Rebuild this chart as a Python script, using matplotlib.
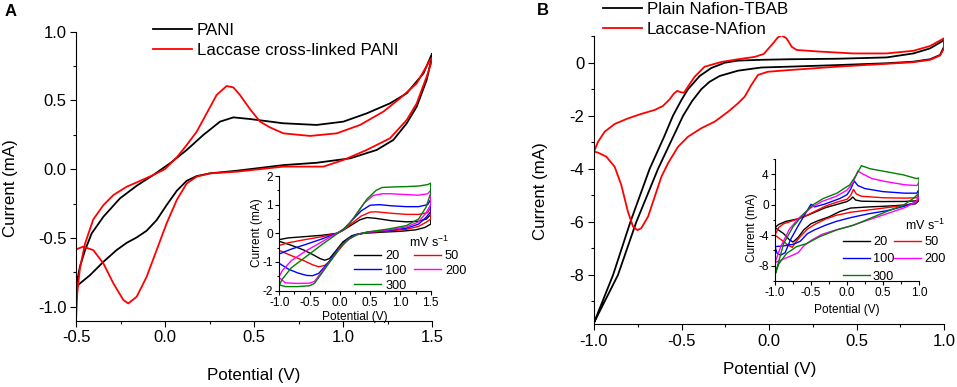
import matplotlib
matplotlib.use('Agg')
import matplotlib.pyplot as plt
from matplotlib.ticker import MultipleLocator, FormatStrFormatter

plt.rcParams['font.family'] = ['Liberation Sans', 'DejaVu Sans']
plt.rcParams['mathtext.fontset'] = 'custom'
plt.rcParams['mathtext.rm'] = 'Liberation Sans'
plt.rcParams['mathtext.it'] = 'Liberation Sans:italic'
plt.rcParams['axes.unicode_minus'] = False

# ---------------- Panel A main: PANI vs laccase cross-linked PANI ----------------
pani_up_x = [-0.5, -0.478, -0.449, -0.412, -0.346, -0.253, -0.159, -0.066, 0.028, 0.122, 0.215, 0.309,
             0.384, 0.478, 0.665, 0.852, 1.002, 1.133, 1.264, 1.358, 1.452, 1.5]
pani_up_y = [-0.854, -0.709, -0.588, -0.467, -0.345, -0.212, -0.120, -0.042, 0.043, 0.140, 0.249, 0.346,
             0.377, 0.365, 0.334, 0.322, 0.346, 0.406, 0.479, 0.552, 0.697, 0.84]
pani_dn_x = [1.5, 1.47, 1.414, 1.358, 1.283, 1.189, 1.04, 0.852, 0.665, 0.403, 0.253, 0.178, 0.122, 0.066,
             0.009, -0.047, -0.103, -0.159, -0.215, -0.272, -0.346, -0.421, -0.5]
pani_dn_y = [0.82, 0.649, 0.455, 0.334, 0.213, 0.14, 0.079, 0.047, 0.030, -0.011, -0.030, -0.050, -0.084,
             -0.157, -0.261, -0.370, -0.447, -0.496, -0.535, -0.588, -0.673, -0.770, -0.854]

lac_up_x = [-0.5, -0.493, -0.478, -0.449, -0.403, -0.346, -0.290, -0.215, -0.159, -0.066, 0.0, 0.066, 0.122,
            0.178, 0.234, 0.290, 0.346, 0.384, 0.421, 0.478, 0.534, 0.590, 0.665, 0.815, 0.965, 1.096, 1.227,
            1.32, 1.414, 1.489, 1.5]
lac_up_y = [-1.1, -0.903, -0.721, -0.540, -0.365, -0.261, -0.188, -0.127, -0.096, -0.042, 0.001, 0.086, 0.176,
            0.273, 0.406, 0.540, 0.605, 0.595, 0.540, 0.436, 0.346, 0.304, 0.261, 0.242, 0.261, 0.322, 0.419,
            0.515, 0.624, 0.794, 0.81]
lac_dn_x = [1.5, 1.47, 1.414, 1.358, 1.264, 1.133, 1.002, 0.89, 0.665, 0.403, 0.253, 0.178, 0.122, 0.066,
            0.009, -0.047, -0.103, -0.159, -0.206, -0.234, -0.290, -0.346, -0.403, -0.459, -0.5]
lac_dn_y = [0.79, 0.673, 0.479, 0.358, 0.225, 0.14, 0.067, 0.019, 0.019, -0.018, -0.030, -0.054, -0.103,
            -0.224, -0.394, -0.588, -0.782, -0.927, -0.976, -0.951, -0.830, -0.685, -0.588, -0.563, -0.583]

# ---------------- Panel A inset: scan rates (mV s-1) ----------------
rate_labels = ['20', '50', '100', '200', '300']
rate_colors = ['#000000', '#ff0000', '#0000ff', '#ff00ff', '#008000']
insA_20_x = [-1, -0.8, -0.6, -0.45, -0.33, -0.25, -0.17, -0.08, 0.05, 0.2, 0.4, 0.7, 1.0, 1.25, 1.4, 1.5,
             1.5, 1.43, 1.3, 1.1, 0.85, 0.6, 0.45, 0.33, 0.2, 0.05, -0.05, -0.3, -0.6, -0.85, -1]
insA_20_y = [-0.28, -0.42, -0.58, -0.74, -0.88, -0.94, -0.88, -0.65, -0.3, -0.08, 0.0, 0.04, 0.07, 0.12, 0.2, 0.32,
             0.66, 0.5, 0.42, 0.40, 0.44, 0.52, 0.55, 0.47, 0.3, 0.1, 0.0, -0.07, -0.12, -0.16, -0.22]
insA_50_x = [-1, -0.8, -0.6, -0.45, -0.35, -0.25, -0.15, -0.03, 0.1, 0.25, 0.45, 0.8, 1.1, 1.3, 1.42, 1.5,
             1.5, 1.45, 1.3, 1.1, 0.85, 0.6, 0.5, 0.35, 0.2, 0.05, -0.05, -0.3, -0.6, -0.85, -1]
insA_50_y = [-0.6, -0.78, -0.95, -1.1, -1.17, -1.12, -0.95, -0.62, -0.28, -0.05, 0.03, 0.08, 0.14, 0.24, 0.38, 0.5,
             0.9, 0.72, 0.66, 0.66, 0.7, 0.75, 0.74, 0.6, 0.35, 0.1, 0.0, -0.12, -0.23, -0.33, -0.42]
insA_100_x = [-1, -0.85, -0.7, -0.55, -0.45, -0.35, -0.2, -0.05, 0.1, 0.25, 0.45, 0.8, 1.1, 1.3, 1.42, 1.5,
              1.5, 1.45, 1.3, 1.1, 0.85, 0.65, 0.5, 0.35, 0.2, 0.05, -0.05, -0.3, -0.55, -0.8, -1]
insA_100_y = [-1.05, -1.25, -1.38, -1.47, -1.48, -1.4, -1.05, -0.6, -0.25, -0.05, 0.04, 0.1, 0.18, 0.32, 0.55, 0.75,
              1.18, 1.0, 0.93, 0.93, 0.96, 1.0, 0.98, 0.78, 0.45, 0.12, 0.0, -0.2, -0.38, -0.55, -0.72]
insA_200_x = [-1, -0.9, -0.7, -0.5, -0.42, -0.3, -0.15, 0.0, 0.15, 0.3, 0.5, 0.8, 1.1, 1.3, 1.42, 1.5,
              1.5, 1.45, 1.3, 1.1, 0.85, 0.7, 0.55, 0.4, 0.25, 0.1, -0.05, -0.3, -0.55, -0.8, -0.95, -1]
insA_200_y = [-1.55, -1.73, -1.75, -1.74, -1.68, -1.35, -0.95, -0.5, -0.2, -0.03, 0.05, 0.12, 0.22, 0.4, 0.7, 1.0,
              1.5, 1.38, 1.33, 1.35, 1.38, 1.38, 1.32, 1.05, 0.6, 0.2, 0.0, -0.3, -0.6, -0.95, -1.3, -1.5]
insA_300_x = [-1, -0.9, -0.7, -0.5, -0.42, -0.3, -0.15, 0.0, 0.15, 0.3, 0.5, 0.8, 1.1, 1.3, 1.42, 1.5,
              1.5, 1.45, 1.3, 1.1, 0.9, 0.7, 0.6, 0.45, 0.3, 0.15, 0.0, -0.3, -0.55, -0.8, -0.95, -1]
insA_300_y = [-1.8, -1.86, -1.86, -1.83, -1.75, -1.4, -0.95, -0.5, -0.2, -0.03, 0.06, 0.15, 0.27, 0.5, 0.9, 1.4,
              1.75, 1.7, 1.65, 1.63, 1.62, 1.6, 1.5, 1.2, 0.75, 0.3, 0.05, -0.4, -0.8, -1.2, -1.6, -1.8]

# ---------------- Panel B main: plain Nafion-TBAB vs Laccase-Nafion ----------------
naf_up_x = [-1.0, -0.891, -0.792, -0.682, -0.6, -0.549, -0.5, -0.463, -0.396, -0.33, -0.253, -0.177, -0.044,
            0.109, 0.387, 0.672, 0.825, 0.92, 1.0]
naf_up_y = [-9.8, -8.0, -6.0, -4.0, -2.8, -2.0, -1.4, -1.0, -0.5, -0.2, 0.0, 0.08, 0.11,
            0.13, 0.15, 0.20, 0.35, 0.54, 0.85]
naf_dn_x = [1.0, 0.977, 0.92, 0.825, 0.672, 0.387, 0.109, -0.044, -0.177, -0.282, -0.34, -0.387, -0.44, -0.491,
            -0.634, -0.758, -0.863, -1.0]
naf_dn_y = [0.60, 0.29, 0.13, 0.04, -0.02, -0.09, -0.15, -0.18, -0.3, -0.5, -0.72, -1.0, -1.45, -2.0,
            -4.0, -6.0, -8.0, -9.8]

lacn_up_x = [-1.0, -0.977, -0.939, -0.882, -0.806, -0.730, -0.653, -0.606, -0.568, -0.543, -0.524, -0.505,
             -0.486, -0.463, -0.425, -0.368, -0.272, -0.177, -0.082, -0.03, 0.023, 0.05, 0.072, 0.1, 0.13, 0.158,
             0.29, 0.482, 0.672, 0.825, 0.92, 1.0]
lacn_up_y = [-3.35, -2.98, -2.60, -2.31, -2.10, -1.93, -1.78, -1.63, -1.38, -1.16, -1.06, -1.11,
             -1.13, -0.90, -0.53, -0.15, 0.03, 0.13, 0.22, 0.33, 0.73, 0.95, 1.03, 0.92, 0.60, 0.48,
             0.42, 0.35, 0.35, 0.45, 0.63, 0.92]
lacn_dn_x = [1.0, 0.977, 0.92, 0.825, 0.672, 0.387, 0.109, -0.006, -0.063, -0.101, -0.139, -0.177, -0.234,
             -0.310, -0.387, -0.463, -0.520, -0.577, -0.615, -0.653, -0.691, -0.730, -0.752, -0.777, -0.806,
             -0.844, -0.882, -0.930, -0.977, -1.0]
lacn_dn_y = [0.54, 0.27, 0.11, 0.02, -0.04, -0.15, -0.28, -0.34, -0.46, -0.84, -1.28, -1.53, -1.85,
             -2.22, -2.47, -2.79, -3.17, -3.79, -4.30, -5.05, -5.80, -6.24, -6.31, -6.18, -5.62,
             -4.61, -3.92, -3.54, -3.39, -3.35]

# ---------------- Panel B inset: scan rates (mV s-1) ----------------
insB_20_x = [-1, -0.95, -0.85, -0.7, -0.55, -0.45, -0.3, -0.15, 0.0, 0.05, 0.08, 0.12, 0.2, 0.5, 0.8, 0.97, 1.0,
             1.0, 0.95, 0.8, 0.55, 0.3, 0.05, -0.1, -0.25, -0.4, -0.5, -0.6, -0.68, -0.75, -0.8, -0.88, -1]
insB_20_y = [-3.0, -2.6, -2.2, -1.9, -1.4, -1.0, -0.4, 0.0, 0.4, 0.7, 1.0, 0.6, 0.45, 0.4, 0.42, 0.5, 0.8,
             0.55, 0.1, -0.05, -0.2, -0.3, -0.45, -0.9, -1.6, -2.1, -2.5, -3.3, -4.3, -4.9, -4.6, -3.8, -3.0]
insB_50_x = [-1, -0.95, -0.88, -0.75, -0.6, -0.45, -0.3, -0.15, 0.0, 0.05, 0.09, 0.13, 0.2, 0.5, 0.8, 0.97, 1.0,
             1.0, 0.95, 0.8, 0.55, 0.3, 0.05, -0.15, -0.3, -0.45, -0.55, -0.65, -0.72, -0.76, -0.82, -0.9, -1]
insB_50_y = [-4.0, -3.0, -2.5, -2.1, -1.6, -0.9, -0.2, 0.3, 0.7, 1.2, 2.0, 1.4, 1.1, 0.9, 0.85, 0.9, 1.4,
             0.7, 0.2, -0.1, -0.4, -0.7, -1.0, -1.4, -1.9, -2.6, -3.2, -4.2, -5.0, -5.6, -5.3, -4.7, -4.0]
insB_100_x = [-1, -0.97, -0.92, -0.86, -0.78, -0.68, -0.58, -0.5, -0.45, -0.3, -0.1, 0.0, 0.05, 0.1, 0.15, 0.25,
              0.5, 0.8, 0.97, 1.0,
              1.0, 0.95, 0.8, 0.55, 0.3, 0.05, -0.15, -0.3, -0.45, -0.55, -0.65, -0.75, -0.88, -1]
insB_100_y = [-5.5, -6.4, -6.6, -6.3, -4.5, -2.8, -1.2, 0.05, -0.3, 0.1, 0.8, 1.3, 2.0, 3.1, 2.5, 2.1,
              1.7, 1.5, 1.5, 2.0,
              0.9, 0.3, -0.2, -0.8, -1.2, -1.7, -2.2, -2.7, -3.3, -3.8, -4.8, -5.2, -5.4, -5.5]
insB_200_x = [-1, -0.92, -0.8, -0.65, -0.5, -0.35, -0.15, 0.0, 0.08, 0.15, 0.22, 0.35, 0.55, 0.8, 0.97, 1.0,
              1.0, 0.95, 0.8, 0.55, 0.3, 0.05, -0.15, -0.35, -0.5, -0.6, -0.68, -0.75, -0.85, -0.95, -1]
insB_200_y = [-7.6, -5.5, -3.2, -1.6, -0.4, 0.4, 1.1, 1.9, 2.8, 4.4, 4.0, 3.4, 3.0, 2.6, 2.5, 2.9,
              1.0, 0.3, -0.4, -1.2, -2.0, -2.8, -3.3, -3.9, -4.7, -5.4, -6.3, -6.6, -7.0, -7.4, -7.6]
insB_300_x = [-1, -0.88, -0.75, -0.6, -0.47, -0.33, -0.14, 0.04, 0.13, 0.2, 0.32, 0.55, 0.78, 0.97, 1.0,
              1.0, 0.92, 0.78, 0.55, 0.32, 0.09, -0.14, -0.38, -0.56, -0.7, -0.84, -0.95, -1]
insB_300_y = [-9.2, -5.1, -2.9, -1.2, 0.0, 0.8, 1.5, 2.6, 3.9, 5.1, 4.7, 4.3, 3.9, 3.4, 3.5,
              1.5, 0.8, -0.1, -0.9, -1.8, -2.7, -3.3, -4.2, -5.1, -5.5, -6.4, -7.8, -9.2]

W, H = 957, 387
fig = plt.figure(figsize=(W / 100, H / 100), dpi=100)

MAIN_TICK = 12
MAIN_LABEL = 12.2
MAIN_LEG = 12.2
INS_TICK = 8.6
INS_LABEL = 8.6
INS_LEG = 9.2


def style_axes(ax, xmaj, xmin, ymaj, ymin, xfmt, yfmt, lsize, maj, mnr, pad):
    for s in ('top', 'right'):
        ax.spines[s].set_visible(False)
    for s in ('left', 'bottom'):
        ax.spines[s].set_linewidth(0.8)
    ax.xaxis.set_major_locator(MultipleLocator(xmaj))
    ax.xaxis.set_minor_locator(MultipleLocator(xmin))
    ax.yaxis.set_major_locator(MultipleLocator(ymaj))
    ax.yaxis.set_minor_locator(MultipleLocator(ymin))
    ax.xaxis.set_major_formatter(FormatStrFormatter(xfmt))
    ax.yaxis.set_major_formatter(FormatStrFormatter(yfmt))
    ax.tick_params(which='major', direction='out', length=maj, width=0.8, labelsize=lsize, pad=pad)
    ax.tick_params(which='minor', direction='out', length=mnr, width=0.8)


def px_axes(l, r, t, b):
    return fig.add_axes([l / W, 1 - b / H, (r - l) / W, (b - t) / H])


# ---------- Panel A ----------
axA = px_axes(76, 432, 31.7, 320.5)
axA.set_xlim(-0.5, 1.5)
axA.set_ylim(-1.1, 1.0)
style_axes(axA, 0.5, 0.25, 0.5, 0.25, '%.1f', '%.1f', MAIN_TICK, 4.5, 2.5, 2.5)
lA1, = axA.plot(pani_up_x + pani_dn_x, pani_up_y + pani_dn_y, color='k', lw=1.3, label='PANI')
lA2, = axA.plot(lac_up_x + lac_dn_x, lac_up_y + lac_dn_y, color='#ff0000', lw=1.3,
                label='Laccase cross-linked PANI')
axA.set_xlabel('Potential (V)', fontsize=MAIN_LABEL)
axA.set_ylabel('Current (mA)', fontsize=MAIN_LABEL)
axA.xaxis.set_label_coords(0.498, -0.166)
axA.yaxis.set_label_coords(-0.162, 0.46)
axA.legend(handles=[lA1, lA2], loc='upper left', bbox_to_anchor=(153 / W, 1 - 23 / H),
           bbox_transform=fig.transFigure, frameon=False, fontsize=MAIN_LEG, handlelength=2.3,
           handletextpad=0.3, labelspacing=0.3, borderpad=0, borderaxespad=0)
fig.text(11 / W, 1 - 12 / H, 'A', ha='center', va='center', fontsize=12, fontweight='bold')

# inset A
iaA = px_axes(279.3, 430.7, 176, 290.6)
iaA.set_facecolor('none')
iaA.set_xlim(-1.0, 1.5)
iaA.set_ylim(-2, 2)
style_axes(iaA, 0.5, 0.25, 1, 0.5, '%.1f', '%d', INS_TICK, 3, 1.8, 1.5)
insA = [(insA_20_x, insA_20_y), (insA_50_x, insA_50_y), (insA_100_x, insA_100_y),
        (insA_200_x, insA_200_y), (insA_300_x, insA_300_y)]
hA = []
for (xs, ys), c, lab in zip(insA, rate_colors, rate_labels):
    h, = iaA.plot(xs, ys, color=c, lw=1.0, label=lab)
    hA.append(h)
iaA.set_xlabel('Potential (V)', fontsize=INS_LABEL)
iaA.set_ylabel('Current (mA)', fontsize=INS_LABEL)
iaA.xaxis.set_label_coords(0.5, -0.175)
iaA.yaxis.set_label_coords(-0.106, 0.507)
order = [0, 2, 4, 1, 3]
iaA.legend(handles=[hA[i] for i in order], ncol=2, loc='upper left',
           bbox_to_anchor=(354 / W, 1 - 250 / H), bbox_transform=fig.transFigure, frameon=False,
           fontsize=INS_LEG, handlelength=2.15, handletextpad=0.3, columnspacing=0.55, labelspacing=0.22,
           borderpad=0, borderaxespad=0)
iaA.text(409 / W, 1 - 242 / H, 'mV s$^{-1}$', transform=fig.transFigure, fontsize=9,
         ha='left', va='center')

# ---------- Panel B ----------
axB = px_axes(594, 944, 36.2, 324)
axB.set_xlim(-1.0, 1.0)
axB.set_ylim(-9.85, 1.0)
style_axes(axB, 0.5, 0.25, 2, 1, '%.1f', '%d', MAIN_TICK, 4.5, 2.5, 2.5)
lB1, = axB.plot(naf_up_x + naf_dn_x, naf_up_y + naf_dn_y, color='k', lw=1.3, label='Plain Nafion-TBAB')
lB2, = axB.plot(lacn_up_x + lacn_dn_x, lacn_up_y + lacn_dn_y, color='#ff0000', lw=1.3,
                label='Laccase-NAfion')
axB.set_xlabel('Potential (V)', fontsize=MAIN_LABEL)
axB.set_ylabel('Current (mA)', fontsize=MAIN_LABEL)
axB.xaxis.set_label_coords(0.503, -0.131)
axB.yaxis.set_label_coords(-0.131, 0.46)
axB.legend(handles=[lB1, lB2], loc='upper left', bbox_to_anchor=(603 / W, 1 - 2 / H),
           bbox_transform=fig.transFigure, frameon=False, fontsize=MAIN_LEG, handlelength=2.3,
           handletextpad=0.3, labelspacing=0.3, borderpad=0, borderaxespad=0)
fig.text(542.5 / W, 1 - 10.5 / H, 'B', ha='center', va='center', fontsize=12, fontweight='bold')

# inset B
iaB = px_axes(775, 919, 158.8, 281)
iaB.set_facecolor('none')
iaB.set_xlim(-1.0, 1.0)
iaB.set_ylim(-10, 6)
style_axes(iaB, 0.5, 0.25, 4, 2, '%.1f', '%d', INS_TICK, 3, 1.8, 1.5)
insB = [(insB_20_x, insB_20_y), (insB_50_x, insB_50_y), (insB_100_x, insB_100_y),
        (insB_200_x, insB_200_y), (insB_300_x, insB_300_y)]
hB = []
for (xs, ys), c, lab in zip(insB, rate_colors, rate_labels):
    h, = iaB.plot(xs, ys, color=c, lw=1.0, label=lab)
    hB.append(h)
iaB.set_xlabel('Potential (V)', fontsize=INS_LABEL)
iaB.set_ylabel('Current (mA)', fontsize=INS_LABEL)
iaB.xaxis.set_label_coords(0.5, -0.188)
iaB.yaxis.set_label_coords(-0.116, 0.438)
iaB.legend(handles=[hB[i] for i in order], ncol=2, loc='upper left',
           bbox_to_anchor=(843 / W, 1 - 236 / H), bbox_transform=fig.transFigure, frameon=False,
           fontsize=INS_LEG, handlelength=2.1, handletextpad=0.25, columnspacing=0.0, labelspacing=0.42,
           borderpad=0, borderaxespad=0)
iaB.text(945 / W, 1 - 225 / H, 'mV s$^{-1}$', transform=fig.transFigure, fontsize=9,
         ha='right', va='center')

fig.savefig('out.png', dpi=100)
